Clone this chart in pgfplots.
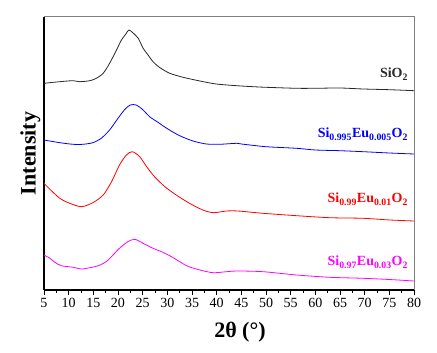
\documentclass[border=0pt]{standalone}
\usepackage{fontspec}
\setmainfont{Liberation Serif}
\usepackage{pgfplots}
\pgfplotsset{compat=1.18}
\usetikzlibrary{calc}
\definecolor{xrdblack}{RGB}{40,40,40}
\definecolor{xrdblue}{RGB}{0,0,255}
\definecolor{xrdred}{RGB}{255,0,0}
\definecolor{xrdmag}{RGB}{255,0,255}

\begin{document}
\begin{tikzpicture}
\begin{axis}[
    scale only axis,
    width=370pt, height=273pt,
    xmin=5, xmax=80,
    ymin=0, ymax=273,
    xtick={5,10,...,80},
    minor x tick num=1,
    ytick=\empty,
    axis x line*=bottom,
    axis y line*=left,
    axis line style={line width=1.2pt, black},
    tick align=outside,
    major tick length=5pt,
    minor tick length=3pt,
    tick style={black, line width=0.8pt},
    /pgf/number format/assume math mode=true,
    ticklabel style={font=\fontsize{14}{16}\selectfont},
    xlabel={\textbf{2θ (°)}},
    ylabel={\textbf{Intensity}},
    label style={font=\fontsize{22}{24}\selectfont},
    xlabel style={xshift=11pt, yshift=-7pt},
    ylabel style={yshift=-5pt},
    every axis plot/.append style={line width=0.8pt, smooth, tension=0.45},
    clip=false,
]
% SiO2
\addplot[xrdblack] coordinates {
(5,206.7)(8.2,208.3)(10.9,209.3)(12.2,208.3)(14.3,209.3)(15.6,211.7)(17,216.7)
(18.3,226.7)(19.7,240)(20.7,250)(21.6,256)(22.2,260)(23,257.3)(24.1,251.7)
(25.1,241.7)(26.1,235)(27.1,228.3)(28.5,222.3)(30.5,216.7)(33.2,212.7)(36.6,209)
(39.9,206)(44,204.3)(47.4,203.3)(50,202.7)(56.2,201.7)(60,201.7)(65,202)
(69.7,201)(75,200.3)(80,199.3)};
% Si0.995Eu0.005O2
\addplot[xrdblue] coordinates {
(5,150)(8.2,147.3)(10.9,145.7)(12.9,145.7)(14.9,147.3)(16.6,151.7)(18.3,160)
(20,171.7)(21.4,180.7)(22.5,185)(23.7,185)(25.1,180)(26.4,173.3)(28.1,167.7)
(30.1,161)(32.5,154.3)(35.2,149)(37.9,146)(40.6,145.7)(44,146.7)(45,146)
(50,143.3)(56.2,141.7)(60,140)(65,139.3)(69.7,138.3)(75,137)(80,136)};
% Si0.99Eu0.01O2
\addplot[xrdred] coordinates {
(5,106.7)(6.2,100.7)(8.2,91.7)(10.2,86.7)(12.6,83.3)(14.9,87.3)(17,95)
(18.7,108.3)(20.3,125)(21.7,135)(22.9,138.3)(24.4,133.3)(25.8,123.3)(27.4,113.3)
(29.5,103.3)(31.8,95)(34.5,86.7)(37.2,80)(39.3,77.3)(42,79)(44.3,79)
(49.4,76.7)(56.2,74.3)(62.9,72.3)(69.7,71.7)(75.1,70)(80,69)};
% Si0.97Eu0.03O2
\addplot[xrdmag] coordinates {
(5,35)(6.2,31.7)(7.2,27.7)(8.5,24.3)(10.9,22.7)(12.6,21)(14.3,22.3)(16,24.3)
(17.6,28.3)(19,35)(20.3,41.7)(22,48.3)(23.4,50.7)(25.1,46.7)(27.1,41.7)
(29.1,37.7)(31.2,32.3)(33.9,24.3)(36.6,20)(39.3,17.3)(42,18.3)(44.3,19)
(49.4,18.3)(56.2,15)(62.9,12.7)(69.7,11.7)(75,10.5)(80,9)};

\draw[gray, line width=1pt] (rel axis cs:0,1) -- (rel axis cs:1,1) -- (rel axis cs:1,0);

\node[anchor=base east, font=\fontsize{14}{16}\selectfont\bfseries, text=xrdblack]
  at (axis cs:79.5,212) {SiO\textsubscript{2}};
\node[anchor=base east, font=\fontsize{14}{16}\selectfont\bfseries, text=xrdblue]
  at (axis cs:79.5,152) {Si\textsubscript{0.995}Eu\textsubscript{0.005}O\textsubscript{2}};
\node[anchor=base east, font=\fontsize{14}{16}\selectfont\bfseries, text=xrdred]
  at (axis cs:79.5,87) {Si\textsubscript{0.99}Eu\textsubscript{0.01}O\textsubscript{2}};
\node[anchor=base east, font=\fontsize{14}{16}\selectfont\bfseries, text=xrdmag]
  at (axis cs:79.5,24) {Si\textsubscript{0.97}Eu\textsubscript{0.03}O\textsubscript{2}};
\end{axis}
\path ($(current axis.south west)+(-44pt,-63pt)$) rectangle ($(current axis.north east)+(23pt,17pt)$);
\end{tikzpicture}
\end{document}
